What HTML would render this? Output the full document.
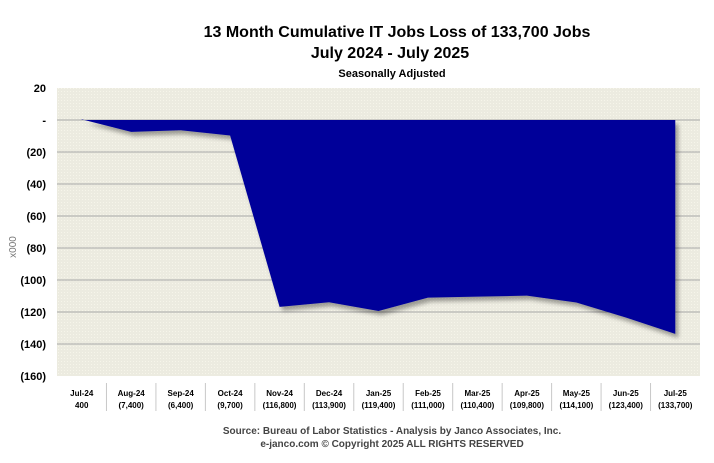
<!DOCTYPE html>
<html><head><meta charset="utf-8"><style>
body{margin:0;background:#fff;width:714px;height:458px;overflow:hidden;font-family:"Liberation Sans",sans-serif}
</style></head><body>
<svg width="714" height="458" xmlns="http://www.w3.org/2000/svg">
<defs>
<pattern id="dots" width="3" height="3" patternUnits="userSpaceOnUse"><rect width="3" height="3" fill="#ecebe0"/><rect x="1" y="1" width="1" height="1" fill="#f6f5ea"/></pattern>
<filter id="sh" x="-5%" y="-5%" width="110%" height="115%"><feDropShadow dx="3" dy="4" stdDeviation="2" flood-color="#000" flood-opacity="0.35"/></filter>
</defs>
<text x="397" y="37" text-anchor="middle" font-size="16" font-weight="bold" fill="#000">13 Month Cumulative IT Jobs Loss of 133,700 Jobs</text>
<text x="390" y="58" text-anchor="middle" font-size="16" font-weight="bold" fill="#000">July 2024 - July 2025</text>
<text x="392" y="77" text-anchor="middle" font-size="11" font-weight="bold" fill="#000">Seasonally  Adjusted</text>
<rect x="57" y="88" width="643" height="288" fill="url(#dots)"/>
<g id="grid"></g>
<g id="area"></g>
<g id="yt"></g>
<g id="xt"></g>
<text transform="translate(16,247) rotate(-90)" text-anchor="middle" font-size="10" fill="#777">x000</text>
<text x="392" y="434" text-anchor="middle" font-size="10" font-weight="bold" fill="#444">Source: Bureau of Labor Statistics - Analysis by Janco Associates, Inc.</text>
<text x="392" y="447" text-anchor="middle" font-size="10" font-weight="bold" fill="#444">e-janco.com © Copyright 2025  ALL RIGHTS RESERVED</text>
</svg>
<script>
const categories=["Jul-24","Aug-24","Sep-24","Oct-24","Nov-24","Dec-24","Jan-25","Feb-25","Mar-25","Apr-25","May-25","Jun-25","Jul-25"];
const values=[0.4,-7.4,-6.4,-9.7,-116.8,-113.9,-119.4,-111.0,-110.4,-109.8,-114.1,-123.4,-133.7];
const valueLabels=["400","(7,400)","(6,400)","(9,700)","(116,800)","(113,900)","(119,400)","(111,000)","(110,400)","(109,800)","(114,100)","(123,400)","(133,700)"];
const yTicks=[20,0,-20,-40,-60,-80,-100,-120,-140,-160];
const yTickLabels=["20","-","(20)","(40)","(60)","(80)","(100)","(120)","(140)","(160)"];
const NS="http://www.w3.org/2000/svg";
const L=57,R=700,T=88,B=376,ymax=20,ymin=-160;
const band=(R-L)/categories.length;
const X=i=>L+band*(i+0.5);
const Y=v=>T+(ymax-v)/(ymax-ymin)*(B-T);
function mk(t,a,p){const e=document.createElementNS(NS,t);for(const k in a)e.setAttribute(k,a[k]);p.appendChild(e);return e;}
const grid=document.getElementById('grid'),yt=document.getElementById('yt'),xt=document.getElementById('xt'),ar=document.getElementById('area');
yTicks.forEach((v,i)=>{
 if(v<ymax&&v>ymin){const g=mk('line',{x1:L,x2:R,y1:Y(v),y2:Y(v),stroke:'#a8a8a8','stroke-width':1},grid);
 
 }
 const t=mk('text',{x:46,y:Y(v)+4,'text-anchor':'end','font-size':11,'font-weight':'bold',fill:'#000'},yt);
 t.textContent=yTickLabels[i];
 
 
});
let d='M'+X(0)+','+Y(0);
values.forEach((v,i)=>{d+=' L'+X(i)+','+Y(v);});
d+=' L'+X(values.length-1)+','+Y(0)+' Z';
const p=mk('path',{d:d,fill:'#000099',filter:'url(#sh)'},ar);


categories.forEach((c,i)=>{
 const a=mk('text',{x:X(i),y:396,'text-anchor':'middle','font-size':8,'font-weight':'bold',fill:'#000'},xt);
 a.textContent=c;
 
 
 const b=mk('text',{x:X(i),y:408,'text-anchor':'middle','font-size':8,'font-weight':'bold',fill:'#000'},xt);
 b.textContent=valueLabels[i];
 
 
 if(i>0){const s=mk('line',{x1:L+band*i,x2:L+band*i,y1:383,y2:411,stroke:'#c8c8c8','stroke-width':1},xt);
 
 }
});
</script>
</body></html>
